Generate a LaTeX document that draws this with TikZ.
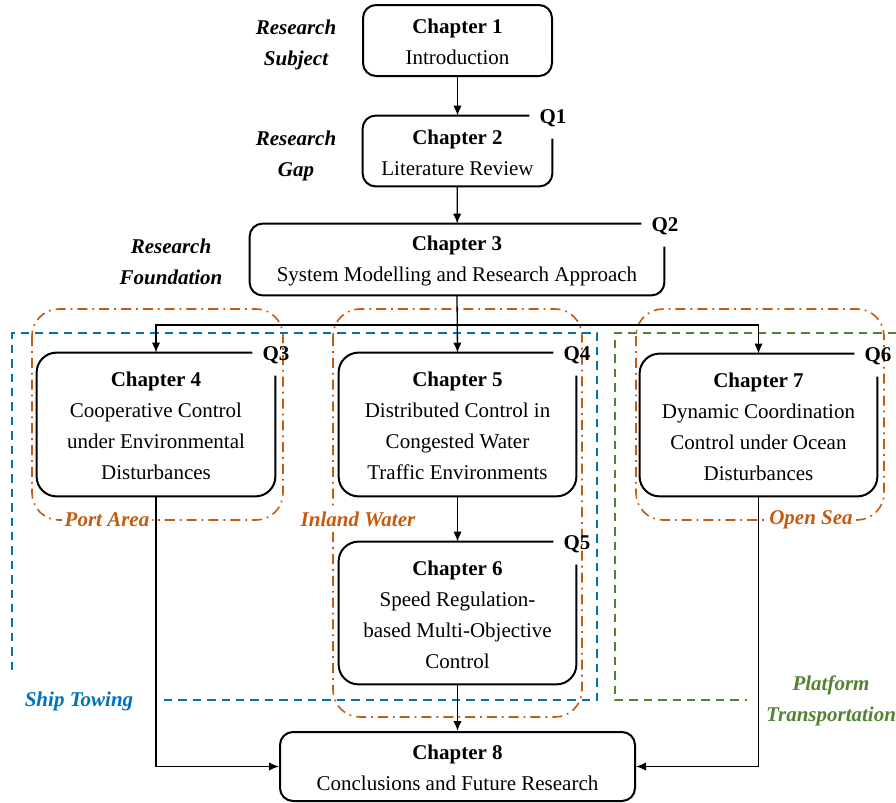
\documentclass[tikz,border=0pt]{standalone}
\usepackage{fontspec}
\setmainfont{Liberation Serif}
\usetikzlibrary{arrows.meta,fit}
\definecolor{regionorange}{HTML}{C55A11}
\definecolor{towblue}{HTML}{0070C0}
\definecolor{platgreen}{HTML}{548235}
\tikzset{
  txt/.style={font=\fontsize{10.5}{15.5}\selectfont, align=center},
  chapbox/.style={inner sep=0pt},
  fullbox/.style={chapbox, draw, line width=1pt, rounded corners=6.5pt},
  boxline/.style={line width=1pt, rounded corners=#1},
  boxline/.default=6.5pt,
  qlab/.style={txt, font=\fontsize{10.5}{15.5}\selectfont\bfseries, inner sep=0pt},
  sidelab/.style={txt, font=\fontsize{10.5}{15.5}\selectfont\bfseries\itshape},
  conn/.style={line width=0.65pt},
  arr/.style={conn, -{Latex[length=5pt,width=4.2pt]}},
  region/.style={regionorange, line width=0.8pt, dash pattern=on 5pt off 2.5pt on 0.9pt off 2.5pt, rounded corners=13.5pt},
  regionlab/.style={txt, font=\fontsize{10.5}{15.5}\selectfont\bfseries\itshape, text=regionorange, fill=white, inner sep=1.5pt},
  towline/.style={towblue, line width=0.9pt, dash pattern=on 4.2pt off 3pt},
  platline/.style={platgreen, line width=0.9pt, dash pattern=on 4.2pt off 3pt},
}
% open outline whose top-right corner is left free for the question label
\newcommand\openbox[3]{%
  \draw[boxline=#3] ([yshift=-11.5pt]#1.north east) |- (#1.south west) |- ([xshift=-11.5pt]#1.north east);
  \node[qlab] (#1q) at ([xshift=0.3pt,yshift=-1.5pt]#1.north east) {#2};
}
\begin{document}
\begin{tikzpicture}[x=0.5pt, y=-0.5pt]
\useasboundingbox (0,0) rectangle (896,803);

% ---- application regions ----
\draw[region] (32,309) rectangle (283,520);
\draw[region] (333,309) rectangle (582,717);
\draw[region] (636,309) rectangle (884,520);

\draw[towline] (12,670) -- (12,333) -- (597,333) -- (597,700) -- (160,700);
\draw[platline] (896,333) -- (615,333) -- (615,700) -- (747,700);

\node[regionlab] (port) at (107,520) {Port Area};
\node[regionlab] (inland) at (358,519) {Inland Water};
\node[regionlab] (sea) at (811,520) {Open Sea};
\node[sidelab, text=towblue] (tow) at (79,701.5) {Ship Towing};
\node[sidelab, text=platgreen] (plat) at (831,700.5) {Platform\\Transportation};

% ---- stage labels ----
\node[sidelab] (subj) at (296,44.5) {Research\\Subject};
\node[sidelab] (gap) at (296,155.5) {Research\\Gap};
\node[sidelab] (found) at (171,261.5) {Research\\Foundation};

% ---- chapter frames ----
\node[fullbox, fit={(363,5) (552,76)}] (c1) {};
\node[chapbox, fit={(363,116) (552,186)}] (c2) {};
\node[chapbox, fit={(250,224) (664,295)}] (c3) {};
\node[chapbox, fit={(37,353) (275,496)}] (c4) {};
\node[chapbox, fit={(339,353) (576,496)}] (c5) {};
\node[chapbox, fit={(339,542) (576,684)}] (c6) {};
\node[chapbox, fit={(640,354) (877,496)}] (c7) {};
\node[fullbox, fit={(280,732) (635,801)}] (c8) {};

\openbox{c2}{Q1}{6.5pt}
\openbox{c3}{Q2}{6.5pt}
\openbox{c4}{Q3}{10pt}
\openbox{c5}{Q4}{10pt}
\openbox{c6}{Q5}{10pt}
\openbox{c7}{Q6}{10pt}

% ---- chapter titles ----
\node[txt] (c1t) at ([yshift=-0.7pt]c1.center) {\textbf{Chapter 1}\\Introduction};
\node[txt] (c2t) at ([yshift=-0.7pt]c2.center) {\textbf{Chapter 2}\\Literature Review};
\node[txt] (c3t) at ([yshift=-0.7pt]c3.center) {\textbf{Chapter 3}\\System Modelling and Research Approach};
\node[txt] (c4t) at ([yshift=-0.7pt]c4.center) {\textbf{Chapter 4}\\Cooperative Control\\under Environmental\\Disturbances};
\node[txt] (c5t) at ([yshift=-0.7pt]c5.center) {\textbf{Chapter 5}\\Distributed Control in\\Congested Water\\Traffic Environments};
\node[txt] (c6t) at ([yshift=-0.7pt]c6.center) {\textbf{Chapter 6}\\Speed Regulation-\\based Multi-Objective\\Control};
\node[txt] (c7t) at ([yshift=-0.7pt]c7.center) {\textbf{Chapter 7}\\Dynamic Coordination\\Control under Ocean\\Disturbances};
\node[txt] (c8t) at ([yshift=-0.7pt]c8.center) {\textbf{Chapter 8}\\Conclusions and Future Research};

% ---- connectors ----
\draw[arr] (c1) -- (c2);
\draw[arr] (c2) -- (c3);
\coordinate (split) at (c3.south |- 0,325);
\draw[arr] (c3.south) -- (c5.north);
\draw[arr] (split) -| (c4.north);
\draw[arr] (split) -| (c7.north);
\draw[arr] (c5) -- (c6);
\draw[arr] (c6) -- (c8);
\draw[arr] (c4.south) |- (c8.west);
\draw[arr] (c7.south) |- (c8.east);
\end{tikzpicture}
\end{document}
